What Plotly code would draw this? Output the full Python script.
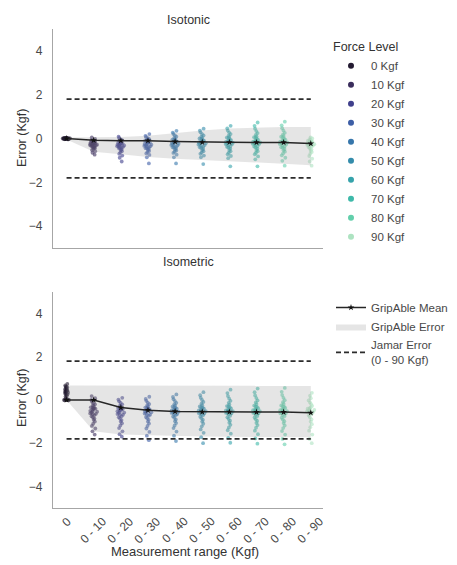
import plotly.graph_objects as go

# ---------------- data ----------------
categories = ["0", "0 - 10", "0 - 20", "0 - 30", "0 - 40", "0 - 50",
              "0 - 60", "0 - 70", "0 - 80", "0 - 90"]
force_levels = ["0 Kgf", "10 Kgf", "20 Kgf", "30 Kgf", "40 Kgf",
                "50 Kgf", "60 Kgf", "70 Kgf", "80 Kgf", "90 Kgf"]
force_colors = ["#231a31", "#3a2d5c", "#40408c", "#3d5ea6", "#3676ab",
                "#348cab", "#36a3ab", "#3eb9a9", "#62cfab", "#ade3c1"]
jamar_error = 1.8
y_ticks = [-4, -2, 0, 2, 4]

iso_mean = [0.0, -0.08, -0.1, -0.1, -0.14, -0.17, -0.17, -0.18, -0.18, -0.23]
iso_err_upper = [0.05, 0.05, 0.07, 0.12, 0.25, 0.36, 0.46, 0.5, 0.52, 0.53]
iso_err_lower = [-0.05, -0.6, -0.72, -0.85, -0.92, -0.97, -1.02, -1.08, -1.15, -1.22]

isom_mean = [0.0, 0.0, -0.35, -0.47, -0.53, -0.55, -0.55, -0.56, -0.56, -0.59]
isom_err_upper = [0.67, 0.67, 0.67, 0.67, 0.67, 0.67, 0.67, 0.67, 0.67, 0.66]
isom_err_lower = [0.0, -1.45, -1.6, -1.64, -1.67, -1.69, -1.7, -1.71, -1.72, -1.73]

# isotonic errors per force level
iso_0 = [0.03, -0.02, 0.01, -0.03, 0.0, 0.02, -0.01, 0.04, -0.04, 0.01, 0.0, -0.02, 0.02,
         -0.01, 0.03, 0.0, -0.03, 0.01, 0.0, -0.02, 0.02, 0.0, -0.01, 0.01, 0.0]
iso_1 = [0.05, -0.02, -0.08, -0.1, -0.12, -0.15, -0.16, -0.18, -0.2, -0.21, -0.23, -0.25,
         -0.26, -0.28, -0.3, -0.31, -0.33, -0.35, -0.37, -0.4, -0.42, -0.45, -0.48, -0.52,
         -0.58, -0.65, -0.74, -0.14, -0.24, -0.34, -0.19, -0.29]
iso_2 = [0.08, 0.02, -0.04, -0.08, -0.12, -0.15, -0.18, -0.2, -0.23, -0.25, -0.28, -0.3,
         -0.32, -0.35, -0.38, -0.4, -0.43, -0.46, -0.5, -0.54, -0.58, -0.63, -0.7, -0.78,
         -0.88, -1.05, -0.22, -0.33, -0.27, -0.42]
iso_3 = [0.2, 0.12, 0.06, 0.02, -0.03, -0.07, -0.1, -0.13, -0.16, -0.19, -0.22, -0.25,
         -0.28, -0.31, -0.34, -0.37, -0.4, -0.44, -0.48, -0.52, -0.57, -0.62, -0.68, -0.75,
         -0.86, -1.14, -0.18, -0.27, -0.09, -0.35, -0.45]
iso_4 = [0.35, 0.27, 0.2, 0.14, 0.08, 0.03, -0.02, -0.06, -0.1, -0.13, -0.17, -0.2, -0.24,
         -0.27, -0.3, -0.34, -0.38, -0.42, -0.46, -0.5, -0.55, -0.6, -0.66, -0.74, -0.86,
         -1.14, -0.15, -0.22, -0.05, -0.32, -0.4]
iso_5 = [0.45, 0.36, 0.28, 0.2, 0.14, 0.08, 0.03, -0.02, -0.06, -0.1, -0.14, -0.18, -0.22,
         -0.26, -0.3, -0.34, -0.38, -0.43, -0.48, -0.53, -0.58, -0.64, -0.7, -0.78, -0.86,
         -1.17, -0.12, -0.2, 0.0, -0.28, -0.4]
iso_6 = [0.58, 0.46, 0.36, 0.27, 0.2, 0.13, 0.07, 0.02, -0.03, -0.07, -0.11, -0.15, -0.19,
         -0.23, -0.27, -0.31, -0.36, -0.41, -0.46, -0.52, -0.58, -0.65, -0.72, -0.8, -0.9,
         -1.27, -0.1, -0.18, 0.04, -0.25, -0.38]
iso_7 = [0.73, 0.58, 0.45, 0.34, 0.25, 0.17, 0.1, 0.04, -0.01, -0.06, -0.1, -0.14, -0.18,
         -0.22, -0.26, -0.3, -0.35, -0.4, -0.46, -0.52, -0.58, -0.65, -0.72, -0.82, -0.95,
         -1.27, -0.08, -0.16, 0.06, -0.24, -0.37]
iso_8 = [0.77, 0.6, 0.47, 0.36, 0.26, 0.18, 0.11, 0.05, 0.0, -0.05, -0.1, -0.14, -0.18,
         -0.22, -0.27, -0.32, -0.37, -0.42, -0.48, -0.54, -0.6, -0.68, -0.77, -0.88, -1.02,
         -1.24, -0.07, -0.15, 0.08, -0.25, -0.4]
iso_9 = [0.05, 0.0, -0.04, -0.08, -0.12, -0.16, -0.2, -0.24, -0.28, -0.32, -0.36, -0.4,
         -0.45, -0.5, -0.56, -0.62, -0.7, -0.8, -0.92, -1.05, -1.24, -0.1, -0.18, -0.26,
         -0.34, -0.14, -0.22, -0.3]

# isometric errors per force level
isom_0 = [0.74, 0.68, 0.62, 0.58, 0.55, 0.52, 0.5, 0.47, 0.45, 0.43, 0.41, 0.39, 0.37,
          0.35, 0.33, 0.3, 0.27, 0.24, 0.2, 0.15, 0.1, 0.05, 0.0, 0.0, 0.0, 0.0, 0.0, 0.0,
          0.02, 0.6, 0.44]
isom_1 = [0.18, 0.08, 0.0, -0.08, -0.15, -0.2, -0.25, -0.3, -0.34, -0.38, -0.42, -0.46,
          -0.5, -0.54, -0.58, -0.62, -0.66, -0.7, -0.75, -0.8, -0.86, -0.92, -1.0, -1.1,
          -1.2, -1.32, -1.45, -1.6, -0.4, -0.52, -0.64, -0.36]
isom_2 = [0.1, 0.02, -0.06, -0.14, -0.2, -0.26, -0.31, -0.36, -0.4, -0.44, -0.48, -0.52,
          -0.56, -0.6, -0.65, -0.7, -0.75, -0.8, -0.86, -0.93, -1.0, -1.08, -1.18, -1.3,
          -1.45, -1.58, -1.7, -0.46, -0.58, -0.38, -0.68]
isom_3 = [0.15, 0.05, -0.04, -0.12, -0.19, -0.25, -0.3, -0.35, -0.39, -0.43, -0.47, -0.51,
          -0.55, -0.59, -0.63, -0.68, -0.73, -0.79, -0.85, -0.92, -1.0, -1.09, -1.2, -1.32,
          -1.48, -1.65, -1.86, -0.45, -0.57, -0.37, -0.7]
isom_4 = [0.26, 0.14, 0.04, -0.05, -0.13, -0.2, -0.26, -0.31, -0.36, -0.4, -0.44, -0.48,
          -0.52, -0.56, -0.6, -0.65, -0.7, -0.76, -0.82, -0.9, -0.98, -1.07, -1.18, -1.3,
          -1.46, -1.65, -1.9, -0.46, -0.54, -0.34, -0.66]
isom_5 = [0.36, 0.22, 0.1, 0.0, -0.09, -0.17, -0.24, -0.3, -0.35, -0.4, -0.44, -0.48,
          -0.52, -0.56, -0.61, -0.66, -0.71, -0.77, -0.84, -0.92, -1.0, -1.1, -1.22, -1.36,
          -1.52, -1.72, -2.0, -0.42, -0.5, -0.33, -0.63]
isom_6 = [0.48, 0.32, 0.18, 0.06, -0.04, -0.13, -0.21, -0.28, -0.34, -0.39, -0.44, -0.48,
          -0.52, -0.57, -0.62, -0.67, -0.73, -0.8, -0.88, -0.96, -1.05, -1.15, -1.27, -1.4,
          -1.56, -1.75, -1.98, -0.43, -0.5, -0.3, -0.6]
isom_7 = [0.53, 0.36, 0.21, 0.09, -0.02, -0.11, -0.19, -0.26, -0.32, -0.38, -0.43, -0.47,
          -0.52, -0.57, -0.62, -0.68, -0.74, -0.81, -0.89, -0.97, -1.06, -1.16, -1.28, -1.42,
          -1.58, -1.78, -2.02, -0.42, -0.49, -0.3, -0.6]
isom_8 = [0.56, 0.38, 0.23, 0.1, -0.01, -0.1, -0.18, -0.25, -0.31, -0.37, -0.42, -0.47,
          -0.52, -0.57, -0.63, -0.69, -0.75, -0.82, -0.9, -0.98, -1.07, -1.18, -1.3, -1.44,
          -1.6, -1.8, -2.05, -0.41, -0.48, -0.29, -0.62]
isom_9 = [0.33, 0.2, 0.08, -0.02, -0.11, -0.19, -0.27, -0.34, -0.4, -0.46, -0.52, -0.58,
          -0.65, -0.72, -0.8, -0.9, -1.0, -1.12, -1.26, -1.42, -1.6, -1.8, -2.0, -0.44,
          -0.5, -0.56, -0.38]

iso_points = [iso_0, iso_1, iso_2, iso_3, iso_4, iso_5, iso_6, iso_7, iso_8, iso_9]
isom_points = [isom_0, isom_1, isom_2, isom_3, isom_4, isom_5, isom_6, isom_7, isom_8, isom_9]

# ---------------- figure ----------------
W, H = 457, 565
FONT = "Liberation Sans, Arial, sans-serif"
TXT = "#333333"
TICK = "#484848"
SPINE = "#a6a6a6"


def fx(p):
    return p / W


def fy(p):
    return 1 - p / H


fig = go.Figure()

panels = [
    ("x", "y", iso_points, iso_mean, iso_err_upper, iso_err_lower),
    ("x2", "y2", isom_points, isom_mean, isom_err_upper, isom_err_lower),
]

for k, (xa, ya, pts, mean, up, lo) in enumerate(panels):
    # jittered strip points (library strip rendering via box points)
    for i, vals in enumerate(pts):
        fig.add_trace(go.Box(
            x=[categories[i]] * len(vals), y=vals, xaxis=xa, yaxis=ya,
            boxpoints="all", jitter=0.6, pointpos=0,
            marker=dict(color=force_colors[i], size=3.8, opacity=0.6),
            line=dict(width=0, color="rgba(0,0,0,0)"),
            fillcolor="rgba(0,0,0,0)", showlegend=False, hoverinfo="y",
        ))
    # GripAble error band
    fig.add_trace(go.Scatter(
        x=categories, y=lo, mode="lines", line=dict(width=0),
        showlegend=False, hoverinfo="skip", xaxis=xa, yaxis=ya))
    fig.add_trace(go.Scatter(
        x=categories, y=up, mode="lines", line=dict(width=0),
        fill="tonexty", fillcolor="rgba(150,150,150,0.25)",
        name="GripAble Error", legend="legend2", legendrank=2,
        showlegend=(k == 1), hoverinfo="skip", xaxis=xa, yaxis=ya))
    # Jamar error limits
    fig.add_trace(go.Scatter(
        x=[categories[0], categories[-1], None, categories[0], categories[-1]],
        y=[jamar_error, jamar_error, None, -jamar_error, -jamar_error],
        mode="lines", line=dict(color="#2b2b2b", width=1.7, dash="5px,3px"),
        name="Jamar Error<br>(0 - 90 Kgf)", legend="legend2", legendrank=3,
        showlegend=(k == 1), hoverinfo="skip", xaxis=xa, yaxis=ya))
    # GripAble mean
    fig.add_trace(go.Scatter(
        x=categories, y=mean, mode="lines+markers",
        line=dict(color="#262626", width=1.5),
        marker=dict(color="#111111", size=5, symbol="star"),
        name="GripAble Mean", legend="legend2", legendrank=1,
        showlegend=(k == 1), xaxis=xa, yaxis=ya))

# legend proxies for force levels (solid dots)
for lbl, col in zip(force_levels, force_colors):
    fig.add_trace(go.Scatter(
        x=[None], y=[None], mode="markers", marker=dict(color=col, size=6),
        name=lbl, legend="legend", xaxis="x", yaxis="y"))

x_dom = [fx(53), fx(323)]
common_x = dict(
    domain=x_dom, type="category", categoryorder="array", categoryarray=categories,
    range=[-0.5, 9.45], showline=True, linecolor=SPINE, linewidth=1.2,
    showgrid=False, zeroline=False, fixedrange=True, automargin=False,
    showticklabels=False, ticks="",
)
common_y = dict(
    range=[-5, 5], tickvals=y_ticks, showline=True, linecolor=SPINE, linewidth=1.2,
    showgrid=False, zeroline=False, ticks="outside", ticklen=7, automargin=False,
    tickcolor="rgba(0,0,0,0)", tickfont=dict(size=12, color=TICK, family=FONT),
    fixedrange=True,
)

annotations = [
    dict(text="Isotonic", x=fx(188), y=fy(20)),
    dict(text="Isometric", x=fx(188), y=fy(262)),
    dict(text="Error (Kgf)", x=fx(22), y=fy(138), textangle=-90),
    dict(text="Error (Kgf)", x=fx(22), y=fy(398), textangle=-90),
    dict(text="Measurement range (Kgf)", x=fx(185), y=fy(551),
         font=dict(size=13, color=TXT)),
]
for a in annotations:
    a.update(xref="paper", yref="paper", showarrow=False,
             xanchor="center", yanchor="middle")
    a.setdefault("font", dict(size=12.5, color=TXT))

# rotated category labels, centred under each category (bottom panel)
for cat in categories:
    annotations.append(dict(
        text=cat, x=cat, xref="x2", y=fy(513), yref="paper",
        xanchor="center", yanchor="top", textangle=-45, showarrow=False,
        font=dict(size=12, color=TICK), borderpad=0,
    ))

fig.update_layout(
    width=W, height=H,
    margin=dict(l=0, r=0, t=0, b=0, pad=0, autoexpand=False),
    paper_bgcolor="white", plot_bgcolor="white",
    font=dict(family=FONT, color=TXT),
    boxmode="overlay",
    showlegend=True,
    xaxis=dict(common_x, anchor="y"),
    yaxis=dict(common_y, anchor="x", domain=[fy(248), fy(29)]),
    xaxis2=dict(common_x, anchor="y2"),
    yaxis2=dict(common_y, anchor="x2", domain=[fy(508), fy(292)]),
    legend=dict(
        x=fx(331), y=fy(35), xanchor="left", yanchor="top",
        bgcolor="rgba(0,0,0,0)", font=dict(size=11.5, color=TICK, family=FONT),
        title=dict(text="Force Level", font=dict(size=12.5, color=TXT, family=FONT)),
    ),
    legend2=dict(
        x=fx(331), y=fy(293), xanchor="left", yanchor="top",
        bgcolor="rgba(0,0,0,0)", font=dict(size=11.5, color=TICK, family=FONT),
        traceorder="normal",
    ),
    annotations=annotations,
)

fig.write_html(
    "out.html",
    config={"displayModeBar": False},
    post_script="document.body.style.margin='0';document.body.style.overflow='hidden';",
)
